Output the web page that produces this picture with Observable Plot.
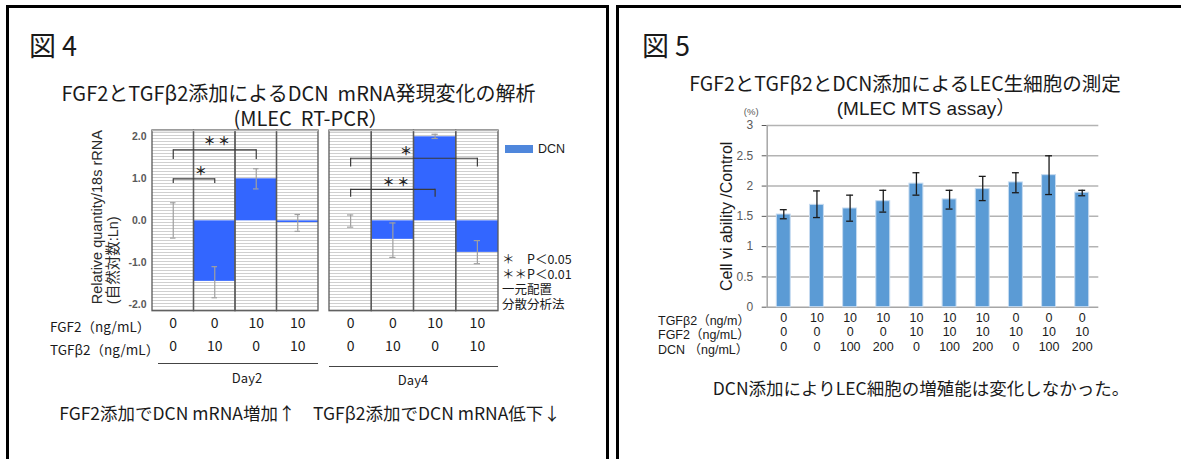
<!DOCTYPE html>
<html><head><meta charset="utf-8">
<script src="https://cdn.jsdelivr.net/npm/d3@7"></script>
<script src="https://cdn.jsdelivr.net/npm/@observablehq/plot@0.6"></script>
<style>
html,body{margin:0;padding:0;background:#fff;}
#root{position:relative;width:1181px;height:459px;overflow:hidden;background:#fff;font-family:"Noto Sans CJK JP",sans-serif;color:#1a1a1a;}
.box{position:absolute;box-sizing:border-box;border:3px solid #000;border-bottom:none;}
.t{position:absolute;white-space:pre;line-height:1;}
</style></head>
<body>
<svg width="0" height="0" style="position:absolute"><defs>
<pattern id="hatch" patternUnits="userSpaceOnUse" width="6" height="3">
<rect width="6" height="3" fill="#ffffff"/>
<line x1="0" y1="0.5" x2="6" y2="0.5" stroke="#cfcfcf" stroke-width="1"/>
</pattern></defs></svg>
<div id="root"></div>
<script>
// ---------- data: figure 4 (DCN mRNA, ln relative quantity) ----------
const fgf2Day = [0, 0, 10, 10];
const tgfb2Day = [0, 10, 0, 10];
const dcnDay2 = [0, -1.44, 1.0, -0.04];
const dcnDay2Low = [-0.41, -1.83, 0.76, -0.25];
const dcnDay2High = [0.43, -1.09, 1.24, 0.15];
const dcnDay4 = [0, -0.44, 2.0, -0.75];
const dcnDay4Low = [-0.15, -0.87, 1.96, -1.02];
const dcnDay4High = [0.14, -0.05, 2.06, -0.47];
const leftYTicks = [-2, -1, 0, 1, 2];
// significance brackets (column indices, bracket level, tick end, label level)
const sigDay2From = [0, 0];
const sigDay2To = [2, 1];
const sigDay2Level = [1.69, 1.0];
const sigDay2TickEnd = [1.46, 0.89];
const sigDay2TextLevel = [1.87, 1.15];
const sigDay2Label = ["＊ ＊", "＊"];
const sigDay4From = [0, 0];
const sigDay4To = [3, 2];
const sigDay4Level = [1.49, 0.75];
const sigDay4TickEnd = [1.28, 0.56];
const sigDay4TextLevel = [1.63, 0.89];
const sigDay4Label = ["＊", "＊ ＊"];
const leftRowLabels = ["FGF2（ng/mL）", "TGFβ2（ng/mL）"];
const dayLabels = ["Day2", "Day4"];
const pNotes = ["＊　P＜0.05", "＊＊P＜0.01", "一元配置", "分散分析法"];
const legendLabel = "DCN";

// ---------- data: figure 5 (MTS assay) ----------
const viaTGFb2 = [0, 10, 10, 10, 10, 10, 10, 0, 0, 0];
const viaFGF2 = [0, 0, 0, 0, 10, 10, 10, 10, 10, 10];
const viaDCN = [0, 0, 100, 200, 0, 100, 200, 0, 100, 200];
const viability = [1.53, 1.69, 1.63, 1.75, 2.04, 1.78, 1.95, 2.06, 2.18, 1.89];
const viabilityLow = [1.46, 1.48, 1.42, 1.57, 1.85, 1.62, 1.76, 1.89, 1.86, 1.84];
const viabilityHigh = [1.61, 1.92, 1.85, 1.93, 2.22, 1.93, 2.16, 2.22, 2.50, 1.93];
const viaTicks = [0, 0.5, 1, 1.5, 2, 2.5, 3];
const rightRowLabels = ["TGFβ2（ng/m）", "FGF2（ng/mL）", "DCN （ng/mL）"];

// ---------- texts ----------
const fig4Tag = "図 4", fig5Tag = "図 5";
const fig4Title = ["FGF2とTGFβ2添加によるDCN  mRNA発現変化の解析", "(MLEC  RT-PCR）"];
const fig5Title = ["FGF2とTGFβ2とDCN添加によるLEC生細胞の測定", "(MLEC MTS assay）"];
const fig4Caption = "FGF2添加でDCN mRNA増加↑　TGFβ2添加でDCN mRNA低下↓";
const fig5Caption = "DCN添加によりLEC細胞の増殖能は変化しなかった。";
const leftYTitle = "Relative quantity/18s rRNA\n(自然対数:Ln)";
const rightYTitle = "Cell vi ability /Control";

// ---------- helpers ----------
const JP = '"Noto Sans CJK JP", sans-serif';
const AR = '"Liberation Sans", Arial, "Noto Sans CJK JP", sans-serif';
const root = document.getElementById("root");
function box(l, t, w, h) {
  const d = document.createElement("div");
  d.className = "box";
  Object.assign(d.style, {left: l + "px", top: t + "px", width: w + "px", height: h + "px"});
  root.appendChild(d);
}
function put(text, x, y, o = {}) {
  const d = document.createElement("div");
  d.className = "t";
  d.textContent = text;
  Object.assign(d.style, {
    left: x + "px", top: y + "px", fontSize: (o.size || 14) + "px",
    fontFamily: o.family || JP, color: o.color || "#1a1a1a", fontWeight: o.weight || "normal",
    transform: o.anchor === "start" ? "translate(0,-50%)" : "translate(-50%,-50%)"
  });
  root.appendChild(d);
}
// multi-line block: lines separated by "\n"; firstLineY = centre of line 1
function block(lines, x, firstLineY, lineH, o = {}) {
  const d = document.createElement("div");
  d.className = "t";
  d.textContent = lines.join("\n");
  const centred = o.anchor !== "start";
  Object.assign(d.style, {
    left: (centred ? x - 300 : x) + "px", width: centred ? "600px" : "auto",
    top: (firstLineY - lineH / 2) + "px", lineHeight: lineH + "px",
    textAlign: centred ? "center" : "left", textIndent: (o.indent || 0) + "px",
    fontSize: (o.size || 14) + "px", fontFamily: o.family || JP, color: o.color || "#1a1a1a"
  });
  root.appendChild(d);
}
function hline(x1, x2, y, color) {
  const d = document.createElement("div");
  Object.assign(d.style, {position: "absolute", left: x1 + "px", top: y + "px", width: (x2 - x1) + "px", height: "0", borderTop: "1.5px solid " + color});
  root.appendChild(d);
}
function place(svg, left, top) {
  svg.style.position = "absolute";
  svg.style.left = left + "px";
  svg.style.top = top + "px";
  root.appendChild(svg);
}

// ---------- frames ----------
box(6, 5, 603, 480);
box(616, 5, 600, 480);

// ---------- figure 4 ----------
put(fig4Tag, 53, 44, {size: 27});
block(fig4Title, 311, 92, 25, {size: 20, indent: -25});

const conds = fgf2Day.map((f, i) => `FGF2 ${f} / TGFβ2 ${tgfb2Day[i]}`);
function dayRows(v, lo, hi) {
  return conds.map((c, i) => ({cond: c, fgf2: fgf2Day[i], tgfb2: tgfb2Day[i], value: v[i], lo: lo[i], hi: hi[i]}));
}
function sigRows(from, to, level, tickEnd, textLevel, label) {
  return from.map((f, i) => ({from: conds[f], to: conds[to[i]], mid: conds[1], level: level[i], tickEnd: tickEnd[i], textLevel: textLevel[i], label: label[i]}));
}
const Y0 = -2.15, Y1 = 2.15;
function dayPlot(rows, sig, textDx, {width, marginLeft, showAxis}) {
  const bracket = {stroke: "#3a3a3a", strokeWidth: 1.2};
  const marks = [
    Plot.barY(rows, {x: "cond", y1: Y0, y2: Y1, fill: "url(#hatch)"}),
    Plot.barY(rows, {x: "cond", y1: 0, y2: "value", fill: "#3366ff"}),
    Plot.ruleX(rows, {x: "cond", y1: "lo", y2: "hi", stroke: "#a0a0a0", strokeWidth: 1.2}),
    Plot.tickY(rows, {x: "cond", y: "lo", stroke: "#a0a0a0", strokeWidth: 1.2, insetLeft: 18, insetRight: 18}),
    Plot.tickY(rows, {x: "cond", y: "hi", stroke: "#a0a0a0", strokeWidth: 1.2, insetLeft: 18, insetRight: 18}),
    Plot.barY(rows, {x: "cond", y1: Y0, y2: Y1, fill: "none", stroke: "#5a5a5a", strokeWidth: 1.3}),
    Plot.ruleY([Y1], {stroke: "#b8b8b8", strokeWidth: 1.5}),
    Plot.link(sig, {x1: "from", x2: "to", y1: "level", y2: "level", ...bracket}),
    Plot.ruleX(sig, {x: "from", y1: "level", y2: "tickEnd", ...bracket}),
    Plot.ruleX(sig, {x: "to", y1: "level", y2: "tickEnd", ...bracket}),
    ...sig.map((s, i) => Plot.text([s], {x: "mid", y: "textLevel", text: "label", dx: textDx[i], fontSize: 12, fontWeight: "bold", fill: "#222", fontFamily: JP})),
    Plot.text(rows, {x: "cond", frameAnchor: "bottom", dy: 16.3, text: d => String(d.fgf2), fontSize: 14, fontWeight: "normal", fill: "#1a1a1a", fontFamily: JP}),
    Plot.text(rows, {x: "cond", frameAnchor: "bottom", dy: 39.3, text: d => String(d.tgfb2), fontSize: 14, fontWeight: "normal", fill: "#1a1a1a", fontFamily: JP})
  ];
  if (showAxis) {
    marks.push(Plot.text([leftYTitle], {text: d => d, frameAnchor: "bottom-left", dx: -47.5, dy: -7, rotate: -90,
      textAnchor: "start", lineAnchor: "middle", lineHeight: 1.05, fontSize: 14.5, fontWeight: "normal", fill: "#2a2a2a", fontFamily: AR}));
  }
  return Plot.plot({
    width, height: 240, marginTop: 10, marginBottom: 49.3, marginLeft, marginRight: 0,
    style: {background: "transparent", overflow: "visible", fontFamily: AR, fontSize: "10.5px", fontWeight: "bold", color: "#595959"},
    x: {domain: conds, axis: null, padding: 0, round: false},
    y: {domain: [Y0, Y1], axis: showAxis ? "left" : null, ticks: leftYTicks, tickFormat: d => d.toFixed(1), tickSize: 0, tickPadding: 6, label: null},
    marks
  });
}
const day2 = dayPlot(dayRows(dcnDay2, dcnDay2Low, dcnDay2High),
  sigRows(sigDay2From, sigDay2To, sigDay2Level, sigDay2TickEnd, sigDay2TextLevel, sigDay2Label),
  [2, -14], {width: 238, marginLeft: 72, showAxis: true});
place(day2, 80, 120);
const day4 = dayPlot(dayRows(dcnDay4, dcnDay4Low, dcnDay4High),
  sigRows(sigDay4From, sigDay4To, sigDay4Level, sigDay4TickEnd, sigDay4TextLevel, sigDay4Label),
  [13, 3], {width: 169, marginLeft: 0, showAxis: false});
place(day4, 329, 120);

// legend and notes
const lg = document.createElement("div");
Object.assign(lg.style, {position: "absolute", left: "505px", top: "145px", width: "28px", height: "8px", background: "#4f87dc"});
root.appendChild(lg);
put(legendLabel, 538, 149, {anchor: "start", size: 12.5, family: AR});
block(pNotes, 502, 258, 15, {anchor: "start", size: 12.5});
put(leftRowLabels[0], 50, 327, {anchor: "start", size: 13.5});
put(leftRowLabels[1], 50, 350, {anchor: "start", size: 13.5});
hline(158, 318, 363, "#444");
hline(329, 498, 366, "#444");
put(dayLabels[0], 247, 377, {size: 13});
put(dayLabels[1], 413, 379, {size: 13});
put(fig4Caption, 310, 413, {size: 17.5});

// ---------- figure 5 ----------
put(fig5Tag, 666, 44, {size: 27});
put(fig5Title[0], 905, 82.5, {size: 19.5});
put(fig5Title[1], 926, 108, {size: 19, family: AR});

const viaRows = viability.map((v, i) => ({
  key: `${viaTGFb2[i]}-${viaFGF2[i]}-${viaDCN[i]}`, tgf: viaTGFb2[i], fgf: viaFGF2[i], dcn: viaDCN[i],
  value: v, lo: viabilityLow[i], hi: viabilityHigh[i]
}));
const RW = 410, RH = 260, RML = 66.7, RMR = 11.7, RMT = 25, RMB = 53.3;
const FW = RW - RML - RMR, FH = RH - RMT - RMB;
const rowText = {frameAnchor: "bottom", fontSize: 12.5, fill: "#1a1a1a", fontFamily: AR};
const mts = Plot.plot({
  width: RW, height: RH, marginLeft: RML, marginRight: RMR, marginTop: RMT, marginBottom: RMB,
  style: {background: "transparent", overflow: "visible", fontFamily: AR, fontSize: "12px", color: "#595959"},
  x: {domain: viaRows.map(d => d.key), axis: null, paddingInner: 0.58, paddingOuter: 0.29, round: false},
  y: {domain: [0, 3], ticks: viaTicks, tickFormat: d => String(d), tickSize: 5, tickPadding: 9, label: null},
  marks: [
    Plot.ruleY(viaTicks.filter(t => t > 0), {stroke: "#b3b3b3", strokeWidth: 1.5}),
    Plot.frame({stroke: "#a6a6a6", strokeWidth: 1.5, strokeDasharray: `0 ${2 * FW + FH} ${FH} 0`}),
    Plot.ruleY([0], {stroke: "#a6a6a6", strokeWidth: 1.5}),
    Plot.barY(viaRows, {x: "key", y: "value", fill: "#5b9bd5", stroke: "#c6dbf0", strokeWidth: 1}),
    Plot.ruleX(viaRows, {x: "key", y1: "lo", y2: "hi", stroke: "#1a1a1a", strokeWidth: 1.3}),
    Plot.tickY(viaRows, {x: "key", y: "lo", stroke: "#1a1a1a", strokeWidth: 1.3, insetLeft: 3.5, insetRight: 3.5}),
    Plot.tickY(viaRows, {x: "key", y: "hi", stroke: "#1a1a1a", strokeWidth: 1.3, insetLeft: 3.5, insetRight: 3.5}),
    Plot.text(viaRows, {x: "key", text: d => String(d.tgf), dy: 14.5, ...rowText}),
    Plot.text(viaRows, {x: "key", text: d => String(d.fgf), dy: 28.5, ...rowText}),
    Plot.text(viaRows, {x: "key", text: d => String(d.dcn), dy: 43.5, ...rowText}),
    Plot.text([rightYTitle], {text: d => d, frameAnchor: "left", textAnchor: "middle", dx: -40, rotate: -90, fontSize: 16, fill: "#1a1a1a", fontFamily: AR}),
    Plot.text(["(%)"], {text: d => d, frameAnchor: "top-left", textAnchor: "middle", dx: -16, dy: -17, fontSize: 9.5, fill: "#595959", fontFamily: AR})
  ]
});
place(mts, 700, 100);
block(rightRowLabels, 658, 321, 14.5, {anchor: "start", size: 12.5, family: AR});
put(fig5Caption, 921, 388, {size: 17.5});
</script>
</body></html>
